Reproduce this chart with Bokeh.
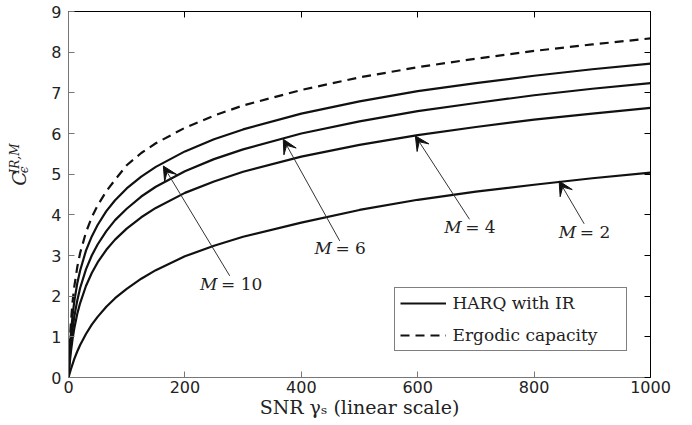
import numpy as np
from bokeh.plotting import figure
from bokeh.layouts import row
from bokeh.models import (Range1d, LinearAxis, FixedTicker, Legend, LegendItem,
                          Label, Arrow, VeeHead, ColumnDataSource, CustomJSTickFormatter)
from bokeh.core.properties import value
from bokeh.embed import file_html
from bokeh.resources import INLINE

# ---------------- data ----------------
snr = [0, 1, 2, 4, 7, 10, 15, 20, 30, 40, 50, 65, 80, 100, 125, 150, 200, 250,
       300, 400, 500, 600, 700, 800, 900, 1000]
harq_m2 = [0, 0.05, 0.10, 0.20, 0.33, 0.46, 0.64, 0.80, 1.07, 1.30, 1.49, 1.74, 1.95,
           2.18, 2.43, 2.64, 2.98, 3.24, 3.46, 3.81, 4.12, 4.37, 4.57, 4.74, 4.90, 5.04]
harq_m4 = [0, 0.18, 0.35, 0.62, 0.95, 1.21, 1.56, 1.83, 2.25, 2.57, 2.83, 3.14, 3.39,
           3.66, 3.94, 4.17, 4.54, 4.82, 5.06, 5.43, 5.72, 5.96, 6.16, 6.34, 6.49, 6.63]
harq_m6 = [0, 0.25, 0.46, 0.80, 1.19, 1.50, 1.89, 2.20, 2.66, 3.00, 3.27, 3.60, 3.87,
           4.15, 4.45, 4.69, 5.07, 5.37, 5.61, 6.00, 6.30, 6.55, 6.75, 6.94, 7.10, 7.24]
harq_m10 = [0, 0.36, 0.64, 1.07, 1.53, 1.88, 2.31, 2.63, 3.12, 3.47, 3.75, 4.09, 4.36,
            4.65, 4.94, 5.18, 5.56, 5.86, 6.10, 6.49, 6.79, 7.04, 7.24, 7.42, 7.58, 7.72]
ergodic = [0, 0.47, 0.82, 1.33, 1.86, 2.24, 2.71, 3.06, 3.57, 3.94, 4.23, 4.58, 4.86,
           5.22, 5.52, 5.76, 6.14, 6.44, 6.69, 7.07, 7.38, 7.63, 7.84, 8.03, 8.19, 8.34]

x_ticks = [0, 200, 400, 600, 800, 1000]
y_ticks = [0, 1, 2, 3, 4, 5, 6, 7, 8, 9]
x_title = "SNR γₛ (linear scale)"

# annotations: label text, label position, arrow tail, arrow tip
ann_num = ["10", "6", "4", "2"]
ann_x = [281, 468, 691, 888]
ann_y = [2.31, 3.19, 3.70, 3.57]
arr_x0 = [277, 466, 689, 886]
arr_y0 = [2.50, 3.36, 3.89, 3.78]
arr_x1 = [163, 369, 596, 843]
arr_y1 = [5.20, 5.86, 5.94, 4.83]

SERIF = "DejaVu Serif"
SANS = "DejaVu Sans"
TXT = "#222222"

# page geometry (px)
W, H = 692, 425
YLAB_W = 40          # strip at left for the y label
FL, FR, FT, FB = 67.5, 650.5, 11, 376.7   # frame edges on the page

p = figure(width=W - YLAB_W, height=H, x_range=Range1d(0, 1000), y_range=Range1d(0, 9),
           output_backend="svg", toolbar_location=None,
           min_border_left=int(round(FL - YLAB_W)), min_border_right=int(round(W - FR)),
           min_border_top=FT, min_border_bottom=int(round(H - FB)))
p.xgrid.visible = False
p.ygrid.visible = False
p.outline_line_color = "black"
p.outline_line_width = 1
p.background_fill_color = "white"
p.border_fill_color = "white"

for ax, t in ((p.xaxis[0], x_ticks), (p.yaxis[0], y_ticks)):
    ax.ticker = FixedTicker(ticks=t)
    ax.minor_tick_line_color = None
    ax.major_tick_in = 6
    ax.major_tick_out = 0
    ax.axis_line_color = "#777777"
    ax.major_tick_line_color = "#777777"
    ax.major_label_text_font = SANS
    ax.major_label_text_font_size = "16px"
    ax.major_label_text_color = TXT
p.xaxis.major_label_standoff = 3
p.yaxis.major_label_standoff = 7
p.xaxis.axis_label = x_title
p.xaxis.axis_label_text_font = SERIF
p.xaxis.axis_label_text_font_size = "19px"
p.xaxis.axis_label_text_font_style = "normal"
p.xaxis.axis_label_text_color = TXT
p.xaxis.axis_label_standoff = 0

blank = CustomJSTickFormatter(code="return ''")
top = LinearAxis(ticker=FixedTicker(ticks=x_ticks), formatter=blank)
right = LinearAxis(ticker=FixedTicker(ticks=y_ticks), formatter=blank)
for ax in (top, right):
    ax.minor_tick_line_color = None
    ax.major_tick_in = 6
    ax.major_tick_out = 0
    ax.major_label_text_font_size = "1px"
    ax.major_label_standoff = 0
    ax.axis_line_color = "black"
    ax.major_tick_line_color = "black"
p.add_layout(top, "above")
p.add_layout(right, "right")

lw = 2.2
r10 = p.line(snr, harq_m10, line_color="#111111", line_width=lw)
p.line(snr, harq_m6, line_color="#111111", line_width=lw)
p.line(snr, harq_m4, line_color="#111111", line_width=lw)
p.line(snr, harq_m2, line_color="#111111", line_width=lw)
rerg = p.line(snr, ergodic, line_color="#111111", line_width=lw, line_dash="9 6")

# arrows
asrc = ColumnDataSource(dict(x0=arr_x0, y0=arr_y0, x1=arr_x1, y1=arr_y1))
p.add_layout(Arrow(source=asrc, x_start="x0", y_start="y0", x_end="x1", y_end="y1",
                   line_color="#333333", line_width=1,
                   end=VeeHead(size=14, fill_color="#111111", line_color="#111111")))

# labels "M = n"
for num, lx, ly in zip(ann_num, ann_x, ann_y):
    rest = "= " + num
    w_m = 15.5
    w_rest = 15.5 + 5.5 + 11.0 * len(num)
    total = w_m + 5.5 + w_rest
    p.add_layout(Label(x=lx, y=ly, text="M", x_offset=-total / 2, text_font=SERIF,
                       text_font_style="italic", text_font_size="17px",
                       text_baseline="middle", text_align="left", text_color=TXT))
    p.add_layout(Label(x=lx, y=ly, text=rest, x_offset=-total / 2 + w_m + 5.5,
                       text_font=SERIF, text_font_size="17px",
                       text_baseline="middle", text_align="left", text_color=TXT))

legend = Legend(items=[LegendItem(label="HARQ with IR", renderers=[r10]),
                       LegendItem(label="Ergodic capacity", renderers=[rerg])],
                location=(393 - FL, FB - 351))
legend.label_text_font = SERIF
legend.label_text_font_size = "17px"
legend.label_text_color = TXT
legend.glyph_width = 46
legend.glyph_height = 20
legend.label_height = 20
legend.label_width = 168
legend.label_standoff = 7
legend.padding = 5
legend.spacing = 12
legend.margin = 0
legend.border_line_color = "black"
legend.border_line_width = 1
legend.background_fill_alpha = 1
p.add_layout(legend)

# y axis label strip: a bare figure whose data units are page pixels (y downwards)
ylab = figure(width=YLAB_W, height=H, x_range=Range1d(0, YLAB_W), y_range=Range1d(H, 0),
              output_backend="svg", toolbar_location=None, x_axis_type=None,
              y_axis_type=None, min_border=0, min_border_left=0, min_border_right=0,
              min_border_top=0, min_border_bottom=0)
ylab.outline_line_color = None
ylab.xgrid.visible = False
ylab.ygrid.visible = False
ylab.background_fill_color = "white"
ylab.border_fill_color = "white"

ang = np.pi / 2
ylab.text(x=[18.3], y=[194], text=["C"], angle=ang, text_font=value(SERIF),
          text_font_style="italic", text_font_size="19px", text_align="center",
          text_baseline="middle", text_color=TXT)
ylab.text(x=[14.5], y=[188], text=["IR,M"], angle=ang, text_font=value(SERIF),
          text_font_style="italic", text_font_size="12px", text_align="left",
          text_baseline="middle", text_color=TXT)
ylab.text(x=[23], y=[184], text=["ϵ"], angle=ang, text_font=value(SERIF),
          text_font_style="italic", text_font_size="12px", text_align="center",
          text_baseline="middle", text_color=TXT)

layout = row(ylab, p, spacing=0)
open("out.html", "w").write(file_html(layout, INLINE))
